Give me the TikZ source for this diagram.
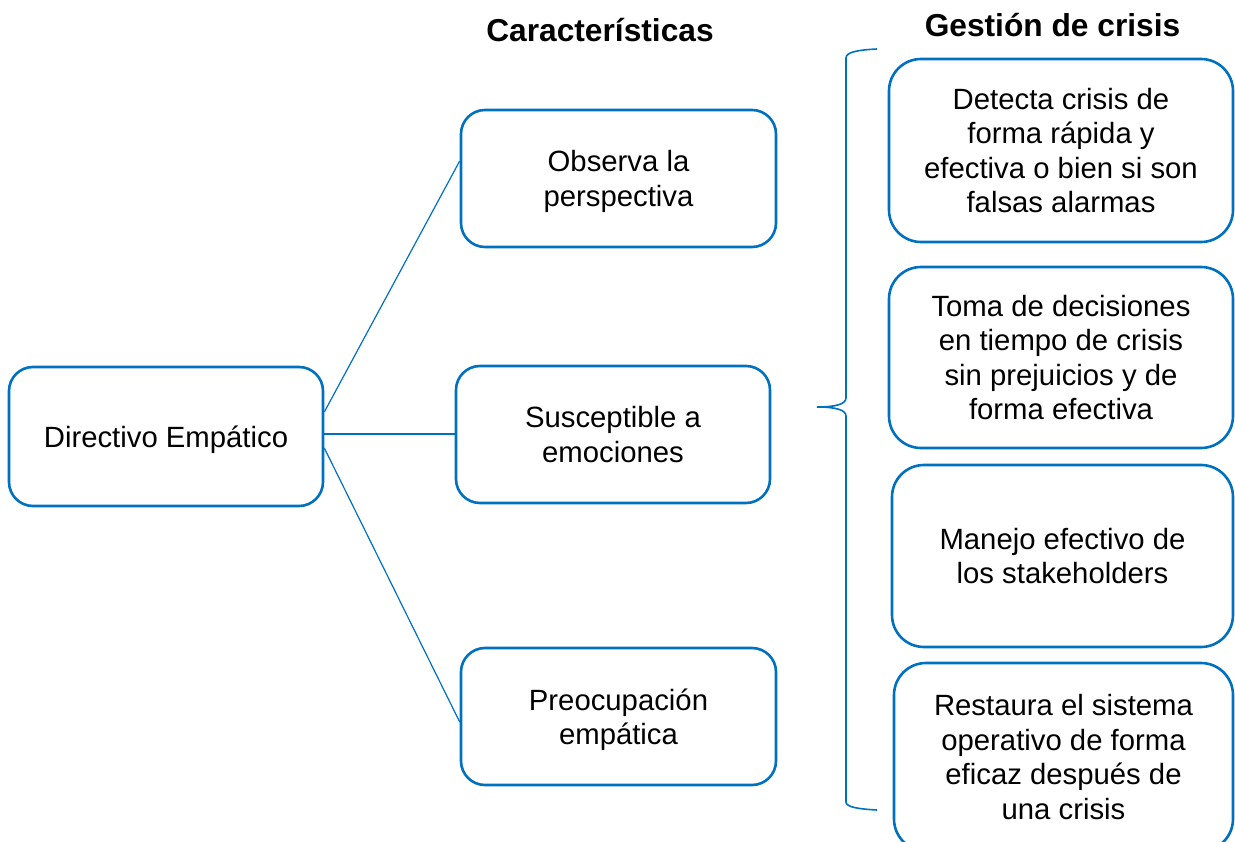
\documentclass[tikz,border=0pt]{standalone}
\usepackage{fontspec}
\setmainfont{Liberation Sans}
\usetikzlibrary{calc}
\definecolor{boxblue}{HTML}{0070C0}
\begin{document}
\begin{tikzpicture}[x=1pt,y=-1pt,
  every node/.style={font=\fontsize{29.3}{34.5}\selectfont},
  leftbox/.style={draw=boxblue,line width=2.6pt,rounded corners=24pt,inner sep=0pt,
    text depth=0pt,align=center,minimum width=#1,minimum height=137pt},
  leftbox/.default=315pt,
  rightbox/.style={draw=boxblue,line width=2.6pt,rounded corners=32pt,inner sep=0pt,
    text depth=0pt,align=center,minimum width=#1},
  link/.style={draw=boxblue,line width=1.2pt},
  title/.style={font=\fontsize{31.7}{36}\selectfont\bfseries}]
\useasboundingbox (0,0) rectangle (1235,842);
\clip (0,0) rectangle (1235,842);

% column headings
\node[title] (hcar) at (600,30) {Características};
\node[title] (hges) at (1052.5,25) {Gestión de crisis};

% central node and its characteristics
\node[leftbox=314pt,minimum height=139pt] (dir) at (166,436.5) {Directivo Empático};
\node[leftbox] (obs) at (618.5,178.5) {Observa la\\perspectiva};
\node[leftbox=314pt] (sus) at (613,434.5) {Susceptible a\\emociones};
\node[leftbox] (pre) at (618.5,716.5) {Preocupación\\empática};

\draw[link] ($(dir.east)+(0,-24.5)$) -- ($(obs.west)+(0,-17.5)$);
\draw[link] ($(dir.east)+(0,-2.5)$) -- (sus.west |- 0,434);
\draw[link] ($(dir.east)+(0,11.5)$) -- ($(pre.west)+(0,5.5)$);

% crisis management boxes
\node[rightbox=344pt,minimum height=183pt] (r1) at (1061,150.5)
  {Detecta crisis de\\forma rápida y\\efectiva o bien si son\\falsas alarmas};
\node[rightbox=344pt,minimum height=181pt] (r2) at (1061,357.5)
  {Toma de decisiones\\en tiempo de crisis\\sin prejuicios y de\\forma efectiva};
\node[rightbox=341pt,minimum height=182pt] (r3) at (1062.5,556)
  {Manejo efectivo de\\los stakeholders};
\node[rightbox=339pt,minimum height=188pt] (r4) at (1063.5,757)
  {Restaura el sistema\\operativo de forma\\eficaz después de\\una crisis};

% brace grouping the crisis boxes
\coordinate (btop) at (877,49);
\coordinate (btip) at (817,407);
\coordinate (bbot) at (877,810);
\draw[boxblue,line width=1.6pt]
  (btop) .. controls (858,50) and (846,52) .. (846,58)
  -- (846,398) .. controls (846,404) and (836,407) .. (btip)
  .. controls (836,407) and (846,410) .. (846,416)
  -- (846,802) .. controls (846,807) and (858,809) .. (bbot);
\end{tikzpicture}
\end{document}
